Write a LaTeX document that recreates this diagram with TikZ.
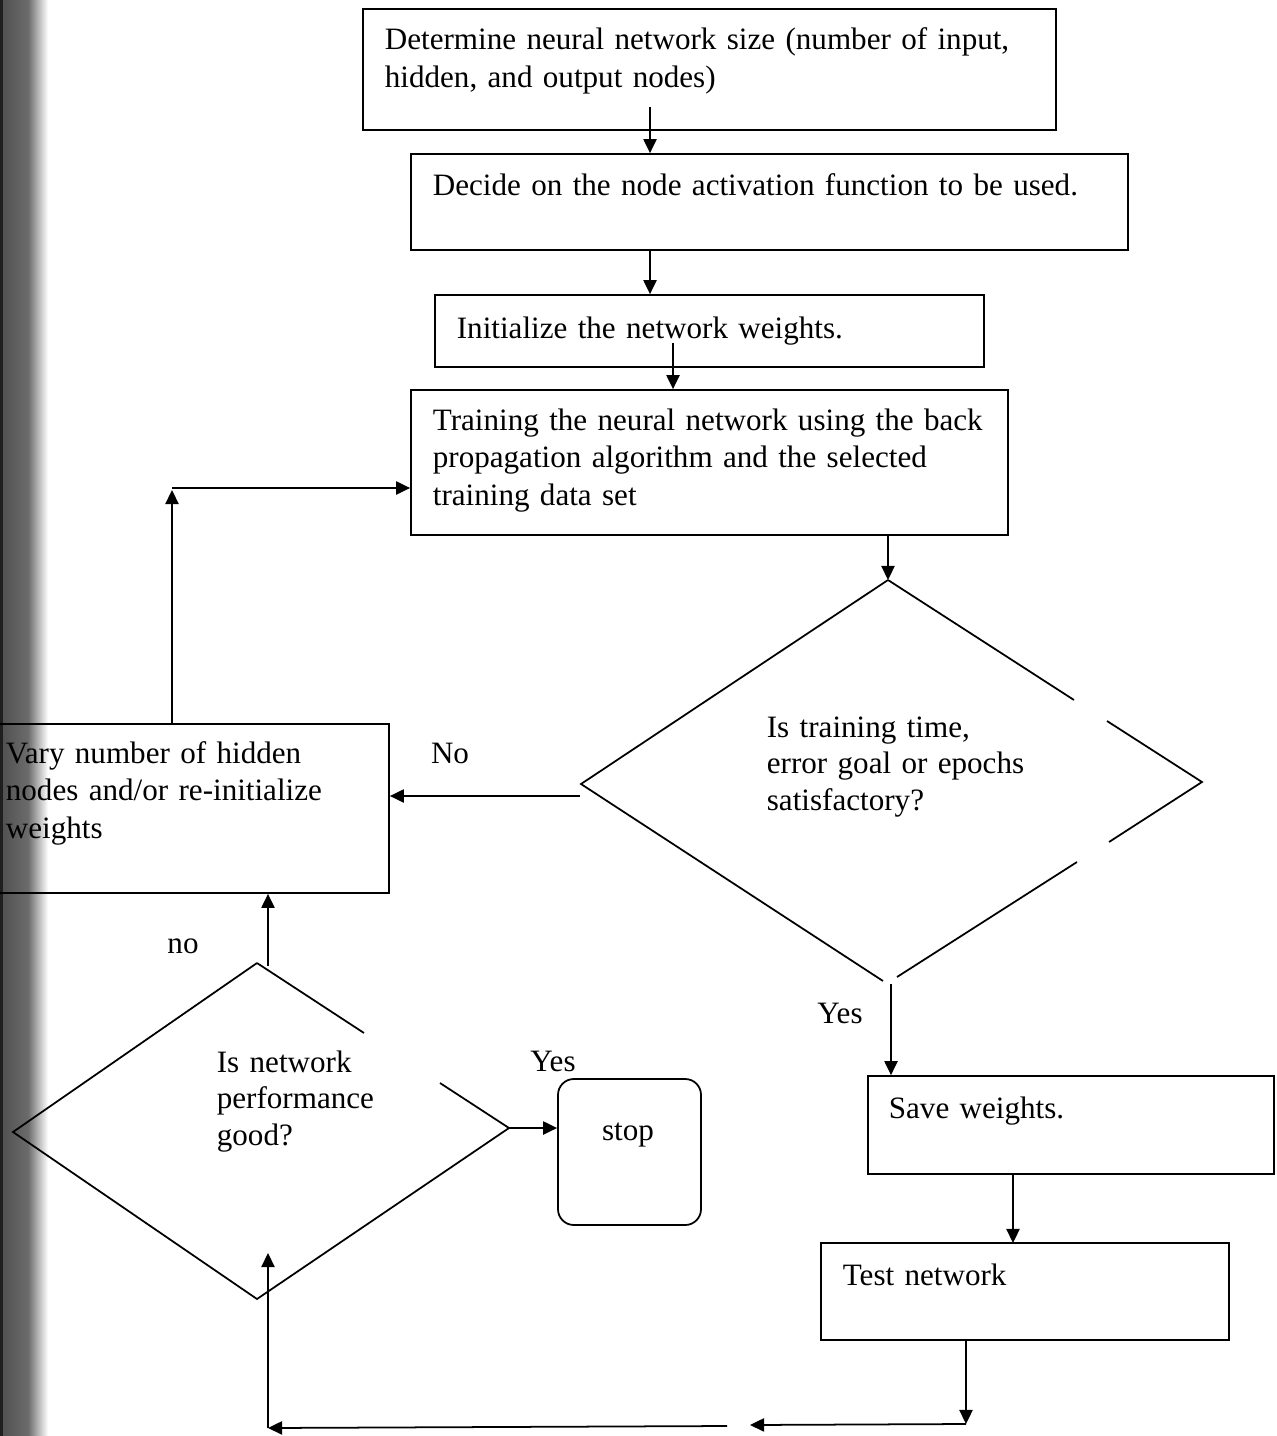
\documentclass[tikz,border=0pt]{standalone}
\usepackage{fontspec}
\setmainfont{Liberation Serif}
\usetikzlibrary{arrows.meta,fit}

\begin{document}
\begin{tikzpicture}[x=0.02cm, y=-0.02cm,
  line width=1pt,
  box/.style={draw, inner sep=0pt},
  txt/.style={anchor=base west, inner sep=0pt, align=left, text width=14cm,
    font=\fontsize{17.7}{21.6}\selectfont},
  qtxt/.style={txt, font=\fontsize{17.7}{20.8}\selectfont},
  lbl/.style={anchor=base, inner sep=0pt, font=\fontsize{17.7}{21.6}\selectfont},
  arr/.style={-{Triangle[length=8pt,width=7.5pt]}},
]
\clip (0,0) rectangle (1276,1436);
\fill[white] (0,0) rectangle (1276,1436);

% dark binding edge along the left margin, built from thin strips
\foreach \i in {0,...,49}{
  \pgfmathsetmacro{\shadeval}{\i<3 ? 88 : (\i<28 ? 68-(\i-3)*0.4 : max(0,58-(\i-28)*2.9))}
  \fill[black!\shadeval] (\i,0) rectangle (\i+1.05,1436);
}

% ---- process boxes ----
\node[box, fit={(363,9) (1056,130)}] (size) {};
\node[txt] (sizet) at (384,50) {Determine neural network size (number of input,\\hidden, and output nodes)};

\node[box, fit={(411,154) (1128,250)}] (act) {};
\node[txt] (actt) at (432,195) {Decide on the node activation function to be used.};

\node[box, fit={(435,295) (984,367)}] (init) {};
\node[txt] (initt) at (456,338) {Initialize the network weights.};

\node[box, fit={(411,390) (1008,535)}] (train) {};
\node[txt] (traint) at (432,430) {Training the neural network using the back\\propagation algorithm and the selected\\training data set};

\node[box, fit={(-30,724) (389,893)}] (vary) {};
\node[txt] (varyt) at (5,763) {Vary number of hidden\\nodes and/or re-initialize\\weights};

\node[box, fit={(868,1076) (1274,1174)}] (save) {};
\node[txt] (savet) at (888,1118) {Save weights.};

\node[box, fit={(821,1243) (1229,1340)}] (test) {};
\node[txt] (testt) at (842,1285) {Test network};

\node[box, rounded corners=9pt, fit={(558,1079) (701,1225)}] (stop) {};
\node[lbl] (stopt) at (628,1140) {stop};

% ---- decision: training criteria (outline with breaks) ----
\coordinate (d1t) at (888,580);
\coordinate (d1l) at (581,784);
\coordinate (d1r) at (1202,782);
\coordinate (d1b) at (891,984);
\draw (d1t) -- (d1l) -- (883,981);
\draw (d1t) -- (1074,700);
\draw (1107,721) -- (d1r) -- (1109,842);
\draw (1077,862) -- (897,977);
\node[qtxt] (d1q) at (766,737) {Is training time,\\error goal or epochs\\satisfactory?};

% ---- decision: network performance (outline with a break) ----
\coordinate (d2t) at (257,963);
\coordinate (d2l) at (13,1132);
\coordinate (d2r) at (509,1128);
\coordinate (d2b) at (257,1299);
\draw (d2t) -- (d2l) -- (d2b) -- (d2r) -- (440,1083);
\draw (d2t) -- (364,1033);
\node[qtxt] (d2q) at (216,1072) {Is network\\performance\\good?};

% ---- connectors ----
\coordinate (a1) at (650,107);
\draw[arr] (a1) -- (a1 |- act.north);
\draw[arr] (act.south -| a1) -- (a1 |- init.north);
\coordinate (a3) at (673,343);
\draw[arr] (a3) -- (a3 |- train.north);
\draw[arr] (train.south -| d1t) -- (d1t);

\coordinate (noout) at (580,796);
\draw[arr] (noout) -- (noout -| vary.east);
\node[lbl] (nolbl) at (450,763) {No};

\draw[arr] (d1b) -- (d1b |- save.north);
\node[lbl] (yes1) at (840,1023) {Yes};

\coordinate (lp) at (172,490);
\draw[arr] (vary.north -| lp) -- (lp);
\coordinate (lp2) at (172,488);
\draw[arr] (lp2) -- (lp2 -| train.west);

\coordinate (nofrom) at (268,966);
\draw[arr] (nofrom) -- (nofrom |- vary.south);
\node[lbl] (nolbl2) at (183,953) {no};

\draw[arr] (d2r) -- (d2r -| stop.west);
\node[lbl] (yes2) at (553,1071) {Yes};

\coordinate (a8) at (1013,1243);
\draw[arr] (save.south -| a8) -- (a8);

\coordinate (c1) at (966,1424);
\coordinate (c2) at (750,1425);
\coordinate (c3) at (727,1426);
\coordinate (c4) at (268,1428);
\coordinate (c5) at (268,1253);
\draw[arr] (test.south -| c1) -- (c1);
\draw[arr] (c1) -- (c2);
\draw[arr] (c3) -- (c4);
\draw[arr] (c4) -- (c5);
\end{tikzpicture}
\end{document}
